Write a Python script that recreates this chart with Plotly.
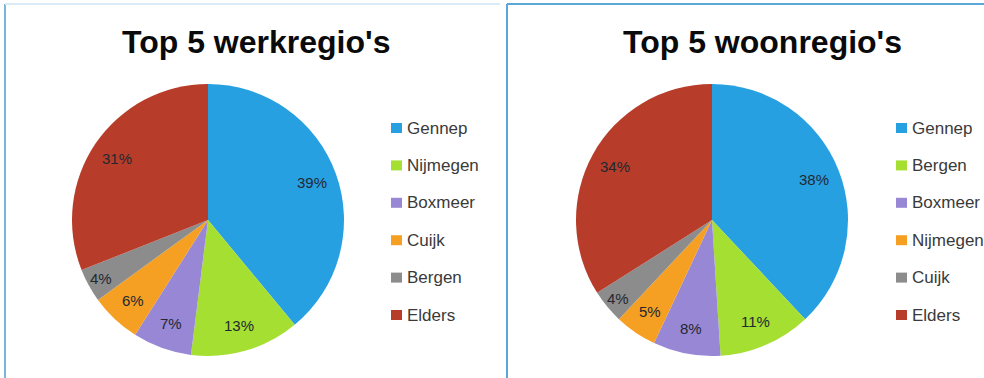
import math
import plotly.graph_objects as go

W, H = 984, 378

# ---- data ----
work_title = "Top 5 werkregio's"
work_labels = ["Gennep", "Nijmegen", "Boxmeer", "Cuijk", "Bergen", "Elders"]
work_values = [39, 13, 7, 6, 4, 31]

live_title = "Top 5 woonregio's"
live_labels = ["Gennep", "Bergen", "Boxmeer", "Nijmegen", "Cuijk", "Elders"]
live_values = [38, 11, 8, 5, 4, 34]

slice_colors = ["#27a0e2", "#a5df32", "#9887d4", "#f5a023", "#8c8c8c", "#b73d2a"]

# ---- layout helpers (pixel -> paper) ----
def px(x):
    return x / W

def py(y):
    return 1 - y / H

R = 136
FONT = "Liberation Sans, Arial, sans-serif"
panels = [
    dict(title=work_title, labels=work_labels, values=work_values,
         cx=208, cy=220, tx=256, leg_x=391),
    dict(title=live_title, labels=live_labels, values=live_values,
         cx=712, cy=220, tx=762, leg_x=896),
]

fig = go.Figure()
annotations = []
shapes = []

for p in panels:
    fig.add_trace(go.Pie(
        labels=p["labels"],
        values=p["values"],
        sort=False,
        direction="clockwise",
        rotation=0,
        marker=dict(colors=slice_colors, line=dict(width=0)),
        textinfo="none",
        hoverinfo="label+percent",
        showlegend=False,
        domain=dict(x=[px(p["cx"] - R), px(p["cx"] + R)],
                    y=[py(p["cy"] + R), py(p["cy"] - R)]),
    ))
    # data labels at the mid-angle of each slice (Excel "best fit" style)
    total = sum(p["values"])
    cum = 0
    for v in p["values"]:
        frac = v / total
        mid = (cum + frac / 2) * 2 * math.pi
        cum += frac
        rr = R * (0.9 if frac < 0.05 else 0.81)
        lx = p["cx"] + rr * math.sin(mid)
        ly = p["cy"] - rr * math.cos(mid)
        annotations.append(dict(
            text=f"{frac:.0%}", x=px(lx), y=py(ly),
            xref="paper", yref="paper", xanchor="center", yanchor="middle",
            showarrow=False,
            font=dict(family=FONT, size=15, color="#222831"),
        ))
    # title
    annotations.append(dict(
        text=f"<b>{p['title']}</b>", x=px(p["tx"]), y=py(42),
        xref="paper", yref="paper", xanchor="center", yanchor="middle",
        showarrow=False,
        font=dict(family=FONT, size=32, color="#0a0a0a"),
    ))
    # legend (built from the category list)
    for i, (lab, col) in enumerate(zip(p["labels"], slice_colors)):
        yc = 128 + i * 37.4
        shapes.append(dict(
            type="rect", xref="paper", yref="paper",
            x0=px(p["leg_x"]), x1=px(p["leg_x"] + 11),
            y0=py(yc + 5), y1=py(yc - 5),
            fillcolor=col, line=dict(width=0),
        ))
        annotations.append(dict(
            text=lab, x=px(p["leg_x"] + 14), y=py(yc),
            xref="paper", yref="paper", xanchor="left", yanchor="middle",
            showarrow=False,
            font=dict(family=FONT, size=17, color="#3a3a3a"),
        ))

# panel borders
shapes += [
    dict(type="line", xref="paper", yref="paper", x0=px(5), x1=px(5), y0=0, y1=py(4),
         line=dict(color="#7ab6dc", width=2)),
    dict(type="line", xref="paper", yref="paper", x0=px(5), x1=px(500), y0=py(4), y1=py(4),
         line=dict(color="#d9ecf6", width=2)),
    dict(type="line", xref="paper", yref="paper", x0=px(507), x1=px(507), y0=0, y1=py(4),
         line=dict(color="#5aa6d8", width=2)),
    dict(type="line", xref="paper", yref="paper", x0=px(507), x1=1, y0=py(4), y1=py(4),
         line=dict(color="#5aa6d8", width=2)),
]

fig.update_layout(
    width=W, height=H,
    margin=dict(l=0, r=0, t=0, b=0),
    paper_bgcolor="white",
    plot_bgcolor="white",
    annotations=annotations,
    shapes=shapes,
)

fig.write_html("out.html")
